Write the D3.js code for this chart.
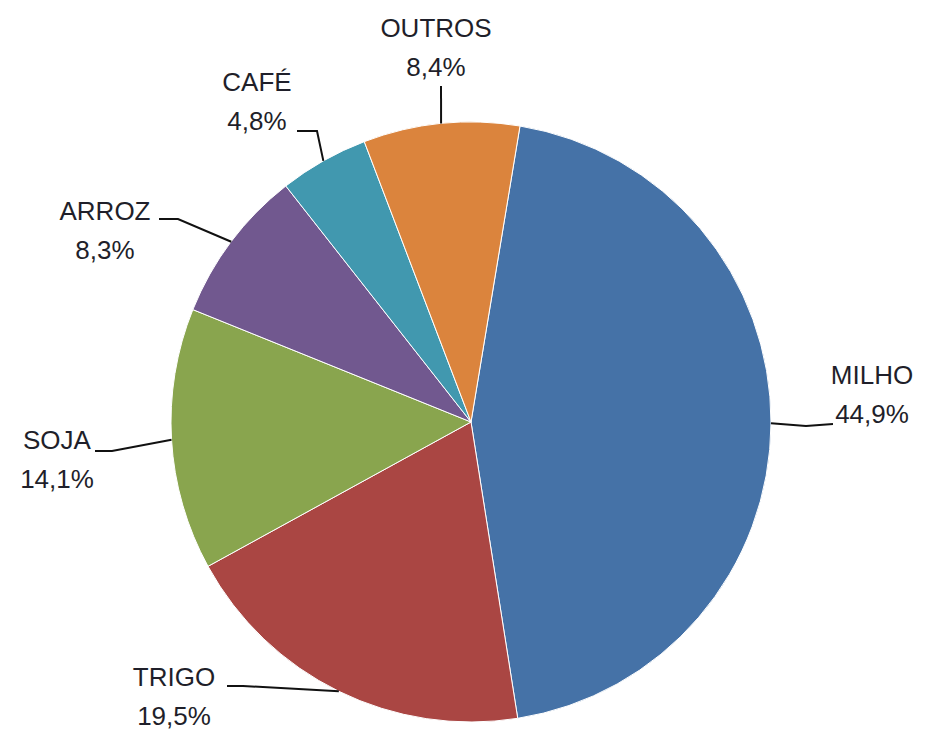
<!DOCTYPE html>
<html>
<head>
<meta charset="utf-8">
<script src="https://cdn.jsdelivr.net/npm/d3@7"></script>
<style>
  body { margin: 0; background: #fff; }
  text { font-family: "Liberation Sans", Arial, sans-serif; font-size: 26px; fill: #1f1f2a; }
</style>
</head>
<body>
<div id="chart"></div>
<script>
var categories = ["MILHO", "TRIGO", "SOJA", "ARROZ", "CAFÉ", "OUTROS"];
var values = [44.9, 19.5, 14.1, 8.3, 4.8, 8.4];
var valueLabels = ["44,9%", "19,5%", "14,1%", "8,3%", "4,8%", "8,4%"];
var colors = ["#4572A7", "#AA4643", "#89A54E", "#71588F", "#4198AF", "#DB843D"];

// label layout: text centre, knee of leader line, end of leader line
var labelLayout = {
  "MILHO":  {tx: 872, ty: 375, knee: [806, 426], end: [833, 424]},
  "TRIGO":  {tx: 174, ty: 677, knee: [243, 686], end: [227, 686]},
  "SOJA":   {tx: 57,  ty: 440, knee: [112, 451], end: [95, 451]},
  "ARROZ":  {tx: 105, ty: 211, knee: [178, 219], end: [159, 219]},
  "CAFÉ":   {tx: 257, ty: 82,  knee: [317, 131], end: [297, 131]},
  "OUTROS": {tx: 436, ty: 28,  knee: [441, 86],  end: [441, 86]}
};

var width = 928, height = 732;
var cx = 471, cy = 422, r = 300;
var startDeg = 9.4;

var svg = d3.select("#chart")
  .append("svg")
    .attr("width", width)
    .attr("height", height);

var data = categories.map(function (c, i) {
  return {name: c, value: values[i], label: valueLabels[i], color: colors[i]};
});

var pie = d3.pie()
  .value(function (d) { return d.value; })
  .sort(null)
  .startAngle(startDeg * Math.PI / 180)
  .endAngle(startDeg * Math.PI / 180 + 2 * Math.PI);

var arc = d3.arc().innerRadius(0).outerRadius(r);

var g = svg.append("g")
  .attr("transform", "translate(" + cx + "," + cy + ")");

var arcs = pie(data);

g.selectAll("path")
  .data(arcs)
  .enter()
  .append("path")
    .attr("d", arc)
    .style("fill", function (d) { return d.data.color; })
    .style("stroke", "#ffffff")
    .style("stroke-width", 1);

// leader lines
arcs.forEach(function (d) {
  var lay = labelLayout[d.data.name];
  var mid = (d.startAngle + d.endAngle) / 2;
  var px = cx + r * Math.sin(mid), py = cy - r * Math.cos(mid);
  svg.append("polyline")
    .attr("points", [[px, py], lay.knee, lay.end].map(function (p) { return p.join(","); }).join(" "))
    .style("fill", "none")
    .style("stroke", "#111")
    .style("stroke-width", 2);

  var t = svg.append("text")
    .attr("text-anchor", "middle")
    .attr("x", lay.tx)
    .attr("y", lay.ty)
    .attr("dominant-baseline", "central");
  t.append("tspan").attr("x", lay.tx).text(d.data.name);
  t.append("tspan").attr("x", lay.tx).attr("dy", 39).text(d.data.label);
});
</script>
</body>
</html>
